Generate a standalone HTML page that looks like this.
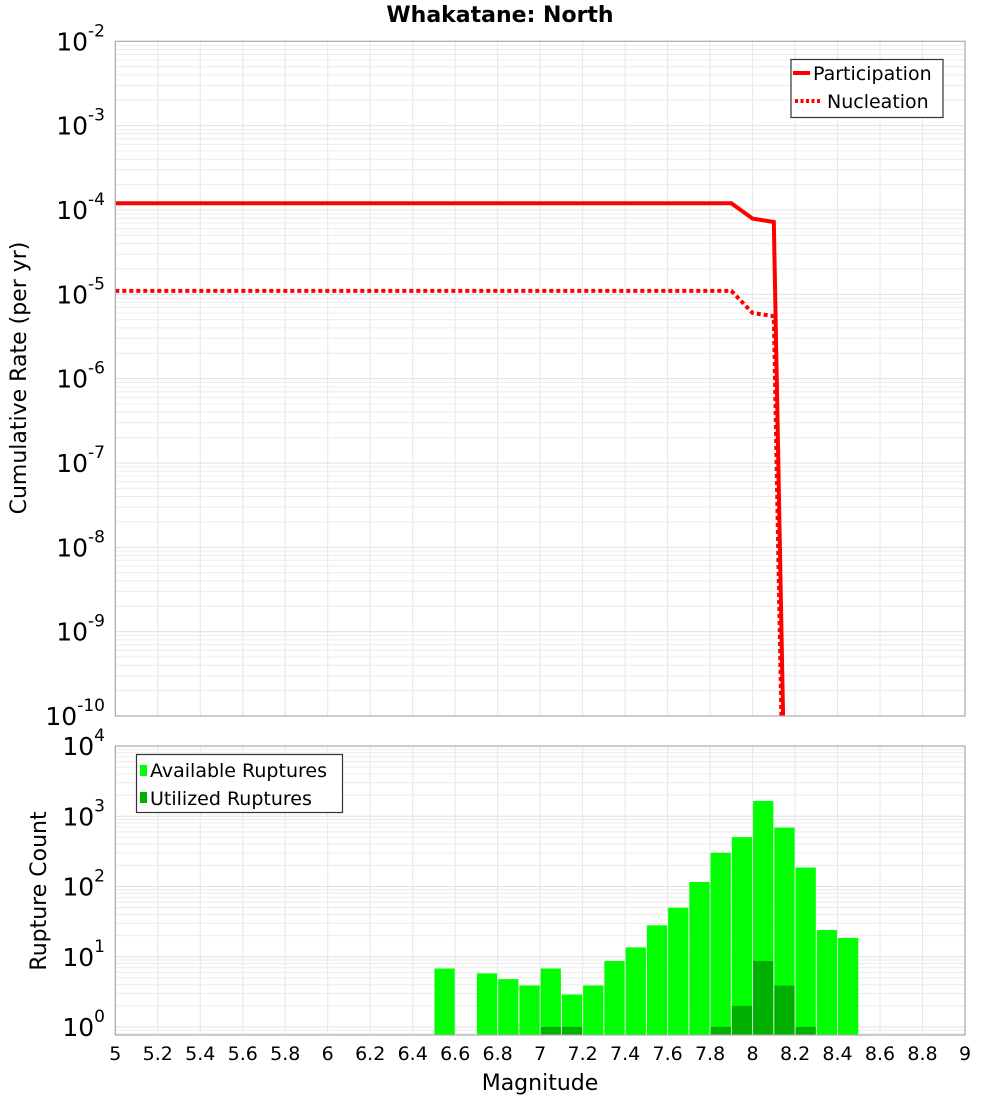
<!DOCTYPE html>
<html><head><meta charset="utf-8"><style>
body{margin:0;background:#fff;}
svg{display:block;font-family:"DejaVu Sans","Liberation Sans",sans-serif;}
</style></head><body>
<svg id="chart" width="1000" height="1100" viewBox="0 0 1000 1100">
<text x="500" y="22" text-anchor="middle" font-size="22" font-weight="bold">Whakatane: North</text>
<g id="topPlot"></g>
<g id="botPlot"></g>
<text transform="translate(26,378) rotate(-90)" text-anchor="middle" font-size="22">Cumulative Rate (per yr)</text>
<text transform="translate(46,891) rotate(-90)" text-anchor="middle" font-size="22">Rupture Count</text>
<text x="540" y="1090" text-anchor="middle" font-size="22">Magnitude</text>
</svg>
<script>
const xTicks = [5,5.2,5.4,5.6,5.8,6,6.2,6.4,6.6,6.8,7,7.2,7.4,7.6,7.8,8,8.2,8.4,8.6,8.8,9];
const partMags = [5.0,7.9,8.0,8.1,8.2];
const partRates = [1.2e-4,1.2e-4,7.9e-5,7.2e-5,2.5e-18];
const nuclMags = [5.0,7.9,8.0,8.1,8.2];
const nuclRates = [1.1e-5,1.1e-5,6.0e-6,5.5e-6,2.5e-19];
const binMags = [6.55,6.75,6.85,6.95,7.05,7.15,7.25,7.35,7.45,7.55,7.65,7.75,7.85,7.95,8.05,8.15,8.25,8.35,8.45];
const availCounts = [6.8,5.8,4.8,3.9,6.8,2.9,3.9,8.7,13.6,28,50,116,302,505,1650,690,186,24,18.5];
const usedMags = [7.05,7.15,7.85,7.95,8.05,8.15,8.25];
const usedCounts = [1,1,1,2,8.7,3.9,1];
const topDecades = [-2,-3,-4,-5,-6,-7,-8,-9,-10];
const botDecades = [4,3,2,1,0];

const NS="http://www.w3.org/2000/svg";
const L=115.3,R=965;
const xs=m=>L+(m-5)*(R-L)/4;
const T1=41.3,B1=716;
const yTop=v=>T1+(-2-Math.log10(v))*(B1-T1)/8;
const T2=746,B2=1035,Y0=1027,DEC=70.25;
const yBot=v=>Y0-Math.log10(v)*DEC;
function mk(tag,attrs,parent,txt){const e=document.createElementNS(NS,tag);for(const k in attrs)e.setAttribute(k,attrs[k]);if(txt!==undefined)e.textContent=txt;parent.appendChild(e);return e;}
const topG=document.getElementById('topPlot'),botG=document.getElementById('botPlot');

const defs=mk('defs',{},topG);
const c1=mk('clipPath',{id:'c1'},defs);mk('rect',{x:L,y:T1,width:R-L,height:B1-T1},c1);

function grid(g,T,B,yf,decs){
  for(const t of xTicks){const l=mk('line',{x1:xs(t),x2:xs(t),y1:T,y2:B,stroke:'#e6e6e6','stroke-width':1},g);
  
  }
  const lo=Math.min(...decs),hi=Math.max(...decs);
  for(let d=lo-1;d<hi;d++)for(let k=1;k<10;k++){const yy=yf(k*Math.pow(10,d));if(yy<T-0.5||yy>B+0.5)continue;
    const l=mk('line',{x1:L,x2:R,y1:yy,y2:yy,stroke:k==1?'#e0e0e0':'#ececec','stroke-width':1},g);
    
    }
}
grid(topG,T1,B1,yTop,topDecades);
grid(botG,T2,B2,yBot,botDecades);

function ylab(g,d,yy){const t=mk('text',{x:105,y:yy+9,'text-anchor':'end','font-size':25},g);
  
  
  t.textContent='10';mk('tspan',{dy:-14,'font-size':17},t,String(d));}
for(const d of topDecades)ylab(topG,d,yTop(Math.pow(10,d)));
for(const d of botDecades)ylab(botG,d,yBot(Math.pow(10,d)));

function pts(ms,vs){return ms.map((m,i)=>xs(m)+','+yTop(vs[i])).join(' ');}
const pl=mk('polyline',{points:pts(partMags,partRates),fill:'none',stroke:'#ff0000','stroke-width':4,'clip-path':'url(#c1)'},topG);


const nl=mk('polyline',{points:pts(nuclMags,nuclRates),fill:'none',stroke:'#ff0000','stroke-width':4,'stroke-dasharray':'4,3','clip-path':'url(#c1)'},topG);



const bw=(R-L)/40;
binMags.forEach((m,i)=>{const yy=yBot(availCounts[i]);const r=mk('rect',{x:xs(m)-bw/2+0.5,y:yy,width:bw-1,height:B2-yy,fill:'#00ff00'},botG);
  
  });
usedMags.forEach((m,i)=>{const yy=yBot(usedCounts[i]);const r=mk('rect',{x:xs(m)-bw/2+0.5,y:yy,width:bw-1,height:B2-yy,fill:'#00b000'},botG);
  
  });

const f1=mk('rect',{x:L,y:T1,width:R-L,height:B1-T1,fill:'none',stroke:'#aaa','stroke-width':1.2},topG);


const f2=mk('rect',{x:L,y:T2,width:R-L,height:B2-T2,fill:'none',stroke:'#aaa','stroke-width':1.2},botG);



for(const t of xTicks){const e=mk('text',{x:xs(t),y:1060,'text-anchor':'middle','font-size':19},botG,String(t));
  
  }

const lg1=mk('g',{},topG);


mk('rect',{x:791,y:59.5,width:152,height:58,fill:'#fff',stroke:'#333','stroke-width':1.2},lg1);
mk('line',{x1:793,x2:810,y1:73,y2:73,stroke:'#f00','stroke-width':4},lg1);
mk('text',{x:813,y:80,'font-size':19},lg1,'Participation');
mk('line',{x1:795,x2:820,y1:101,y2:101,stroke:'#f00','stroke-width':4,'stroke-dasharray':'3,2.5'},lg1);
mk('text',{x:827,y:108,'font-size':19},lg1,'Nucleation');
const lg2=mk('g',{},botG);


mk('rect',{x:136.5,y:754.5,width:206,height:58,fill:'#fff',stroke:'#333','stroke-width':1.2},lg2);
mk('rect',{x:140,y:765,width:7,height:11,fill:'#00ff00'},lg2);
mk('text',{x:150,y:777,'font-size':19},lg2,'Available Ruptures');
mk('rect',{x:140,y:792,width:7,height:11,fill:'#00b000'},lg2);
mk('text',{x:150,y:805,'font-size':19},lg2,'Utilized Ruptures');
</script>
</body></html>
